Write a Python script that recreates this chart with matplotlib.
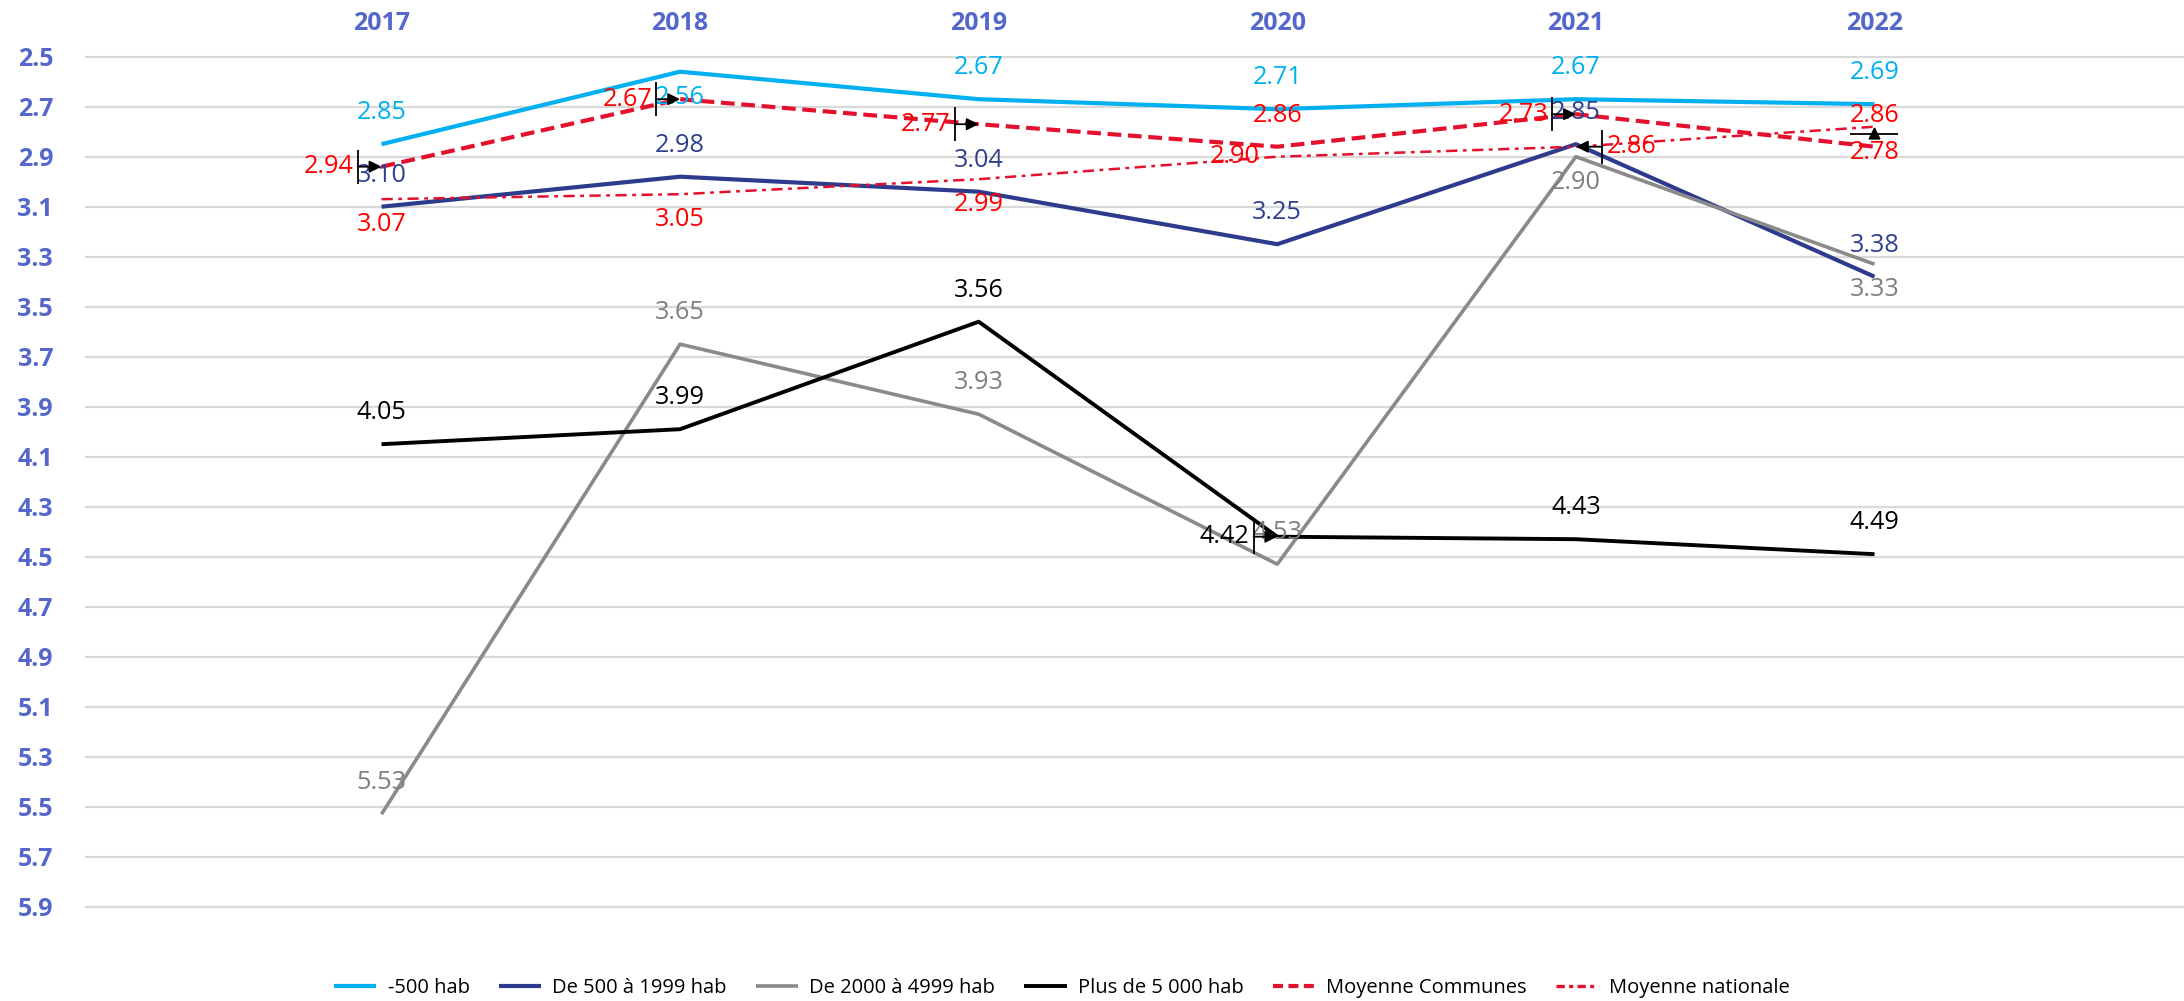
import matplotlib
matplotlib.use("Agg")
import matplotlib.pyplot as plt
from matplotlib.transforms import offset_copy

# ---------------- data ----------------
years = ["2017", "2018", "2019", "2020", "2021", "2022"]
series_names = ["-500 hab", "De 500 à 1999 hab", "De 2000 à 4999 hab",
                "Plus de 5 000 hab", "Moyenne Communes", "Moyenne nationale"]
moins_500 = [2.85, 2.56, 2.67, 2.71, 2.67, 2.69]
de_500_1999 = [3.10, 2.98, 3.04, 3.25, 2.85, 3.38]
de_2000_4999 = [5.53, 3.65, 3.93, 4.53, 2.90, 3.33]
plus_5000 = [4.05, 3.99, 3.56, 4.42, 4.43, 4.49]
moyenne_communes = [2.94, 2.67, 2.77, 2.86, 2.73, 2.86]
moyenne_nationale = [3.07, 3.05, 2.99, 2.90, 2.86, 2.78]
y_ticks = [2.5, 2.7, 2.9, 3.1, 3.3, 3.5, 3.7, 3.9, 4.1, 4.3, 4.5, 4.7, 4.9, 5.1, 5.3, 5.5, 5.7, 5.9]

# label placement per point (style only); "+" = label moved with a leader line
placements = [
    ["above", "below", "above", "above", "above", "above"],
    ["above", "above", "above", "above", "above", "above"],
    ["above", "above", "above", "above", "below", "below"],
    ["above", "above", "above", "left+", "above", "above"],
    ["left+", "left+", "left+", "above", "left+", "above"],
    ["below", "below", "below", "left", "right+", "below+"],
]

values = [moins_500, de_500_1999, de_2000_4999, plus_5000, moyenne_communes, moyenne_nationale]
line_colors = ["#00B0F0", "#2E3B8C", "#8A8A8A", "#000000", "#E4112E", "#E4112E"]
label_colors = ["#00B0F0", "#2F3F8F", "#7F7F7F", "#000000", "#FF0000", "#FF0000"]
line_widths = [3.0, 3.0, 2.6, 2.8, 3.0, 1.8]
line_styles = ["-", "-", "-", "-", (0, (3.3, 1.6)), (0, (4.5, 2.2, 1.5, 2.2))]

FONT = "Open Sans"
AXIS_COLOR = "#5567CC"

fig = plt.figure(figsize=(21.84, 10.01), dpi=100)
W, H = 2184, 1001
ax_left_px, ax_right_px = 85, 2184
y_lo, y_hi = 2.48, 5.92
top_px = 56.7 - (2.5 - y_lo) * 250
bot_px = 906.7 + (y_hi - 5.9) * 250
ax = fig.add_axes([ax_left_px / W, 1 - bot_px / H, (ax_right_px - ax_left_px) / W, (bot_px - top_px) / H])

x = list(range(len(years)))
x0_px, step_px = 381.5, 298.6
ax.set_xlim((ax_left_px - x0_px) / step_px, (ax_right_px - x0_px) / step_px)
ax.set_ylim(y_hi, y_lo)

for vals, name, c, lw, ls in zip(values, series_names, line_colors, line_widths, line_styles):
    ax.plot(x, vals, color=c, lw=lw, linestyle=ls, label=name, solid_capstyle="butt",
            dash_capstyle="butt", zorder=3)

offsets = {
    "above": ((0, 22.5), "center", "center"),
    "below": ((0, -18.5), "center", "center"),
    "left": ((-13, 0), "right", "center"),
    "right": ((22, 0), "left", "center"),
}
leader_geom = {
    "left": ((-17, 0), "|", 25),
    "right": ((19, 0), "|", 25),
    "below": ((0, -5), "_", 35),
}
for vals, plc, lc in zip(values, placements, label_colors):
    for xi, v, p in zip(x, vals, plc):
        lead = p.endswith("+")
        key = p.rstrip("+")
        off, ha, va = offsets[key]
        if lead and key == "left":
            off = (-20, 0)
        ax.annotate(f"{v:.2f}", (xi, v), xytext=off, textcoords="offset points",
                    ha=ha, va=va, fontsize=18.2, color=lc, family=FONT, zorder=5)
        if lead:
            (bx, by), mk, ms = leader_geom[key]
            tr = offset_copy(ax.transData, fig=fig, x=bx, y=by, units="points")
            ax.plot([xi], [v], marker=mk, markersize=ms, markeredgewidth=1.3,
                    color="black", transform=tr, zorder=6)
            ax.annotate("", xy=(xi, v), xytext=(bx, by), textcoords="offset points",
                        arrowprops=dict(arrowstyle="-|>,head_length=0.6,head_width=0.3",
                                        color="black", lw=1.3, shrinkA=0, shrinkB=0,
                                        mutation_scale=12), zorder=6)

ax.set_yticks(y_ticks)
ax.set_yticklabels([f"{t:.1f}" for t in y_ticks])
ax.set_xticks(x)
ax.set_xticklabels(years)
ax.xaxis.tick_top()
ax.tick_params(axis="x", length=0, pad=11, labelsize=18, labelcolor=AXIS_COLOR)
ax.tick_params(axis="y", length=0, pad=23, labelsize=18, labelcolor=AXIS_COLOR)
for lab in ax.get_xticklabels() + ax.get_yticklabels():
    lab.set_fontfamily(FONT)
    lab.set_fontweight("bold")

ax.grid(axis="y", color="#D9D9D9", lw=1.6, zorder=0)
ax.grid(axis="x", visible=False)
for s in ax.spines.values():
    s.set_visible(False)

leg = fig.legend(loc="center", bbox_to_anchor=(1062 / W, 1 - 988 / H), ncol=6, frameon=False,
                 prop={"family": FONT, "size": 14.5}, handlelength=2.1, handletextpad=0.55,
                 columnspacing=1.45)
leg_lines = leg.get_lines()
for h in leg_lines:
    h.set_linewidth(max(h.get_linewidth(), 2.4))
leg_lines[4].set_dashes([2.4, 1.3])
leg_lines[5].set_dashes([2.5, 1.3, 1.2, 1.3])

fig.savefig("out.png", dpi=100)
